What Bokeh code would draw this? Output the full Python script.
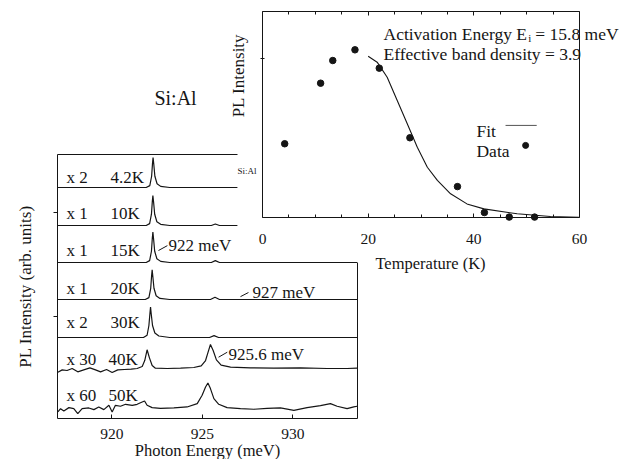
import math
from bokeh.plotting import figure
from bokeh.models import Range1d, LinearAxis, FixedTicker, Label, ColumnDataSource
from bokeh.core.properties import value
from bokeh.embed import file_html
from bokeh.resources import INLINE

FONT = "Liberation Serif"
INK = "#151515"

# ---------------- main panel data: stacked PL spectra ----------------
temps_lbl = ["4.2K", "10K", "15K", "20K", "30K", "40K", "50K"]
mult_lbl = ["x 2", "x 1", "x 1", "x 1", "x 2", "x 30", "x 60"]
baseline_offsets = [6.16, 5.147, 4.16, 3.173, 2.16, 1.333, 0.29]

e_4K = [917.0, 921.9, 922.10, 922.20, 922.25, 922.28, 922.32, 922.38, 922.50, 922.70, 923.2, 926.94]
i_4K = [0.0, 0.0, 0.05, 0.30, 0.65, 0.80, 0.62, 0.30, 0.10, 0.03, 0.0, 0.0]

e_10K = [917.0, 921.9, 922.09, 922.19, 922.24, 922.27, 922.31, 922.37, 922.49, 922.70, 923.2, 925.5, 925.72, 925.95, 926.94]
i_10K = [0.0, 0.0, 0.05, 0.30, 0.65, 0.80, 0.62, 0.30, 0.10, 0.03, 0.0, 0.0, 0.04, 0.0, 0.0]

e_15K = [917.0, 921.9, 922.09, 922.19, 922.24, 922.27, 922.31, 922.37, 922.49, 922.70, 923.2, 925.5, 925.72, 925.95, 933.55]
i_15K = [0.0, 0.0, 0.05, 0.30, 0.66, 0.81, 0.62, 0.30, 0.10, 0.03, 0.0, 0.0, 0.05, 0.0, 0.0]

e_20K = [917.0, 921.85, 922.05, 922.15, 922.20, 922.23, 922.27, 922.33, 922.45, 922.66, 923.2, 925.45, 925.70, 925.95, 933.55]
i_20K = [0.0, 0.0, 0.05, 0.30, 0.64, 0.79, 0.60, 0.30, 0.10, 0.03, 0.0, 0.0, 0.06, 0.0, 0.0]

e_30K = [917.0, 921.75, 921.95, 922.05, 922.11, 922.14, 922.18, 922.25, 922.38, 922.60, 923.2, 925.40, 925.65, 925.90, 933.55]
i_30K = [0.0, 0.0, 0.06, 0.32, 0.66, 0.81, 0.62, 0.32, 0.12, 0.04, 0.0, 0.0, 0.05, 0.0, 0.0]

e_40K = [917.02, 917.26, 917.53, 917.81, 918.12, 918.45, 918.79, 919.10, 919.38, 919.71, 920.02, 920.33,
         920.70, 921.07, 921.40, 921.68, 921.82, 921.95, 922.08, 922.23, 922.41, 923.06, 923.80, 924.53,
         924.94, 925.18, 925.32, 925.45, 925.60, 925.78, 926.04, 926.56, 927.66, 928.95, 930.43, 931.90,
         933.00, 933.55]
i_40K = [-0.098, -0.036, -0.053, 0.0, -0.089, -0.036, 0.018, -0.036, -0.089, -0.027, -0.107, -0.036,
         -0.027, -0.018, 0.0, 0.053, 0.213, 0.50, 0.284, 0.08, 0.009, 0.0, 0.009, 0.027,
         0.071, 0.213, 0.436, 0.64, 0.48, 0.231, 0.089, 0.036, 0.018, 0.009, 0.018, 0.0,
         0.0, 0.009]

e_50K = [917.02, 917.17, 917.35, 917.63, 917.90, 918.12, 918.36, 918.73, 919.01, 919.28, 919.56, 919.84,
         920.02, 920.20, 920.48, 920.76, 921.13, 921.40, 921.68, 921.81, 921.95, 922.23, 922.69, 923.43,
         924.16, 924.72, 924.99, 925.18, 925.31, 925.45, 925.64, 925.91, 926.37, 927.11, 927.85, 928.58,
         929.32, 930.06, 930.79, 931.53, 932.08, 932.45, 933.00, 933.37, 933.55]
i_50K = [-0.116, -0.027, -0.089, 0.0, -0.027, -0.16, -0.027, -0.009, -0.053, 0.018, -0.053, 0.062,
         -0.116, 0.062, 0.036, 0.089, 0.062, 0.089, 0.151, 0.178, 0.062, 0.0, -0.018, -0.009,
         0.018, 0.107, 0.329, 0.551, 0.658, 0.507, 0.24, 0.089, 0.0, -0.027, -0.044, -0.018,
         -0.009, -0.071, 0.0, 0.053, 0.107, 0.036, -0.027, 0.018, 0.036]

spectra_e = [e_4K, e_10K, e_15K, e_20K, e_30K, e_40K, e_50K]
spectra_i = [i_4K, i_10K, i_15K, i_20K, i_30K, i_40K, i_50K]

# peak annotations: (text, text x, text y, leader x0, y0, x1, y1) in main data units
peak_notes = [
    ("922 meV", 923.13, 4.61, 922.58, 4.48, 923.07, 4.61),
    ("927 meV", 927.77, 3.37, 927.11, 3.25, 927.55, 3.36),
    ("925.6 meV", 926.45, 1.71, 925.90, 1.635, 926.38, 1.768),
]

# ---------------- inset data: integrated PL vs temperature ----------------
data_T = [4.2, 11.0, 13.3, 17.5, 22.1, 27.9, 36.9, 42.0, 46.7, 51.5]
data_I = [0.358, 0.652, 0.762, 0.814, 0.725, 0.387, 0.150, 0.024, 0.002, 0.002]

fit_T = [20.0, 21.7, 23.6, 25.5, 27.4, 29.3, 31.2, 33.1, 35.6, 38.7, 41.9, 48.2, 54.5, 59.9]
fit_I = [0.783, 0.754, 0.681, 0.568, 0.455, 0.341, 0.244, 0.180, 0.115, 0.066, 0.042, 0.018, 0.005, 0.0015]

inset_xticks = [0, 20, 40, 60]
main_xticks = [920, 925, 930]

# ---------------- figure (frame = whole canvas) ----------------
W, H = 625, 459
# main panel: 917 meV at px 57, 18.1 px/meV; value 0 at py 418, 37.5 px/unit
MX0, MPX, MY0, MPY = 57, 18.1, 418, 37.5
# inset: 0 K at px 262, 60 K at px 579; intensity 0 at py 217, 1 at py 11
IX0, IPX, IY0, IPY = 262, 317 / 60.0, 217, 206.0

p = figure(width=W, height=H, output_backend="svg", toolbar_location=None,
           x_range=Range1d(917.0 - MX0 / MPX, 917.0 + (W - MX0) / MPX),
           y_range=Range1d(-(H - MY0) / MPY, MY0 / MPY),
           x_axis_type=None, y_axis_type=None,
           min_border=0, min_border_left=0, min_border_right=0, min_border_top=0, min_border_bottom=0)
p.outline_line_color = None
p.background_fill_color = "white"
p.border_fill_color = "white"
p.extra_x_ranges = {"T": Range1d(-IX0 / IPX, (W - IX0) / IPX)}
p.extra_y_ranges = {"I": Range1d(-(H - IY0) / IPY, IY0 / IPY)}

# spectra
for e, i, off in zip(spectra_e, spectra_i, baseline_offsets):
    p.line(e, [v + off for v in i], line_color=INK, line_width=1.2)

# row labels
row_y = [6.43, 5.47, 4.48, 3.47, 2.56, 1.57, 0.61]
row_tx = [919.93, 919.93, 919.93, 919.93, 919.93, 919.82, 919.82]
src_rows = ColumnDataSource(dict(x=[917.5] * 7, tx=row_tx, y=row_y, m=mult_lbl, t=temps_lbl))
p.text(x="x", y="y", text="m", source=src_rows, text_font=value(FONT), text_font_size="17px",
       text_baseline="middle", text_align="left", text_color=INK)
p.text(x="tx", y="y", text="t", source=src_rows, text_font=value(FONT), text_font_size="17px",
       text_baseline="middle", text_align="left", text_color=INK)

for txt, tx, ty, x0, y0, x1, y1 in peak_notes:
    p.segment(x0=[x0], y0=[y0], x1=[x1], y1=[y1], line_color=INK, line_width=1)
    p.text(x=[tx], y=[ty], text=[txt], text_font=value(FONT), text_font_size="17px",
           text_baseline="middle", text_align="left", text_color=INK)

# main axes (all at fixed data locations)
ax_b = LinearAxis(fixed_location=0.0, bounds=(917.0, 933.55),
                  ticker=FixedTicker(ticks=main_xticks, minor_ticks=[]),
                  major_tick_in=4, major_tick_out=0, major_label_standoff=10,
                  major_label_text_font=FONT, major_label_text_font_size="15.5px",
                  major_label_text_color=INK, axis_line_color=INK, major_tick_line_color=INK)
p.add_layout(ax_b, "below")

ax_l = LinearAxis(fixed_location=917.0, bounds=(0.0, 7.04),
                  ticker=FixedTicker(ticks=[2.72, 5.49], minor_ticks=[]),
                  major_tick_in=0, major_tick_out=4, major_label_text_color=None,
                  axis_line_color=INK, major_tick_line_color=INK)
p.add_layout(ax_l, "left")

ax_t = LinearAxis(fixed_location=7.04, bounds=(917.0, 926.94), ticker=FixedTicker(ticks=[], minor_ticks=[]),
                  major_label_text_color=None, axis_line_color=INK)
p.add_layout(ax_t, "above")

ax_r = LinearAxis(fixed_location=933.55, bounds=(0.0, 4.16), ticker=FixedTicker(ticks=[], minor_ticks=[]),
                  major_label_text_color=None, axis_line_color=INK)
p.add_layout(ax_r, "right")

# main labels
p.add_layout(Label(x=925.29, y=-0.85, text="Photon Energy (meV)", text_font=FONT, text_font_size="16.5px",
                   text_align="center", text_baseline="middle", text_color=INK))
p.add_layout(Label(x=915.23, y=3.52, text="PL Intensity (arb. units)", text_font=FONT,
                   text_font_size="17px", angle=math.pi / 2, text_align="center",
                   text_baseline="middle", text_color=INK))
p.add_layout(Label(x=923.52, y=8.56, text="Si:Al", text_font=FONT, text_font_size="20px",
                   text_align="center", text_baseline="middle", text_color=INK))

# ---------------- inset ----------------
p.line(fit_T, fit_I, x_range_name="T", y_range_name="I", line_color=INK, line_width=1.1)
p.scatter(data_T, data_I, x_range_name="T", y_range_name="I", size=6.5, marker="circle",
          fill_color=INK, line_color=INK)

minor5 = [5, 10, 15, 25, 30, 35, 45, 50, 55]
ax_ib = LinearAxis(x_range_name="T", y_range_name="I", fixed_location=0.0, bounds=(0, 60),
                   ticker=FixedTicker(ticks=inset_xticks, minor_ticks=minor5),
                   major_tick_in=4, major_tick_out=0, minor_tick_in=3, minor_tick_out=0,
                   major_label_standoff=16, major_label_text_font=FONT,
                   major_label_text_font_size="15.5px", major_label_text_color=INK,
                   axis_line_color=INK, major_tick_line_color=INK, minor_tick_line_color=INK)
p.add_layout(ax_ib, "below")

ax_it = LinearAxis(x_range_name="T", y_range_name="I", fixed_location=1.0, bounds=(0, 60),
                   ticker=FixedTicker(ticks=inset_xticks, minor_ticks=minor5),
                   major_tick_in=4, major_tick_out=0, minor_tick_in=3, minor_tick_out=0,
                   major_label_text_color=None, axis_line_color=INK,
                   major_tick_line_color=INK, minor_tick_line_color=INK)
p.add_layout(ax_it, "above")

ax_il = LinearAxis(x_range_name="T", y_range_name="I", fixed_location=0.0, bounds=(0, 1),
                   ticker=FixedTicker(ticks=[0.77], minor_ticks=[]),
                   major_tick_in=2, major_tick_out=2, major_label_text_color=None,
                   axis_line_color=INK, major_tick_line_color=INK)
p.add_layout(ax_il, "left")

ax_ir = LinearAxis(x_range_name="T", y_range_name="I", fixed_location=60.0, bounds=(0, 1),
                   ticker=FixedTicker(ticks=[], minor_ticks=[]),
                   major_label_text_color=None, axis_line_color=INK)
p.add_layout(ax_ir, "right")

def ilabel(x, y, text, size="17.5px", align="left", angle=0.0):
    p.add_layout(Label(x=x, y=y, x_range_name="T", y_range_name="I", text=text, text_font=FONT,
                       text_font_size=size, text_align=align, text_baseline="middle",
                       angle=angle, text_color=INK))

ilabel(22.9, 0.893, "Activation Energy E")
ilabel(50.3, 0.872, "i", size="11px")
ilabel(67.4, 0.893, "= 15.8 meV", align="right")
ilabel(22.9, 0.796, "Effective band density = 3.9")
ilabel(40.5, 0.422, "Fit")
ilabel(40.5, 0.325, "Data")
ilabel(-4.54, 0.689, "PL Intensity", size="17px", align="center", angle=math.pi / 2)
ilabel(31.8, -0.223, "Temperature (K)", size="16.5px", align="center")
ilabel(-4.73, 0.228, "Si:Al", size="9px")

p.segment(x0=[46.0], y0=[0.447], x1=[51.9], y1=[0.447], x_range_name="T", y_range_name="I",
          line_color="#555555", line_width=1)
p.scatter([49.8], [0.35], x_range_name="T", y_range_name="I", size=6, marker="circle",
          fill_color=INK, line_color=INK)

open("out.html", "w").write(file_html(p, INLINE))
